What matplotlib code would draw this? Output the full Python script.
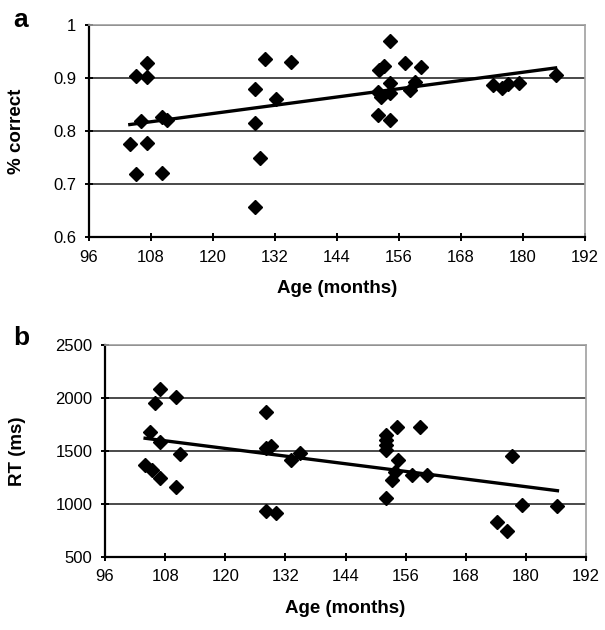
import numpy as np
import matplotlib
import matplotlib.pyplot as plt

matplotlib.rcParams["font.family"] = ["Liberation Sans", "DejaVu Sans"]

# panel a: accuracy vs age
age_a = [103.9, 105.1, 107.2, 107.2, 106.0, 107.2, 105.1, 110.1, 110.1, 111.0,
         128.1, 128.1, 129.1, 128.1, 130.1, 135.0, 132.2,
         154.2, 152.2, 153.1, 157.1, 160.2, 152.0, 152.6, 154.2, 154.2,
         158.1, 159.1, 152.0, 154.2,
         174.1, 176.0, 177.1, 179.2, 186.3]
acc_a = [0.775, 0.904, 0.928, 0.902, 0.818, 0.777, 0.719, 0.720, 0.827, 0.821,
         0.879, 0.816, 0.750, 0.657, 0.935, 0.931, 0.860,
         0.969, 0.916, 0.923, 0.928, 0.921, 0.874, 0.865, 0.890, 0.871,
         0.877, 0.893, 0.830, 0.821,
         0.887, 0.882, 0.889, 0.890, 0.906]

# panel b: reaction time vs age
age_b = [104.9, 107.0, 106.0, 110.1, 107.0, 110.9, 104.0, 105.3, 107.0, 110.1,
         128.1, 128.1, 129.1, 133.1, 135.0, 128.1, 130.1,
         154.2, 158.8, 152.1, 152.1, 152.1, 152.1, 154.5, 153.8, 153.2,
         157.2, 160.2, 152.1,
         177.2, 179.2, 186.3, 174.3, 176.3]
rt_b = [1682, 2088, 1956, 2008, 1585, 1475, 1370, 1318, 1247, 1163,
        1865, 1525, 1547, 1415, 1484, 937, 918,
        1727, 1724, 1651, 1604, 1557, 1509, 1415, 1305, 1226,
        1274, 1274, 1054,
        1453, 991, 981, 833, 748]

xticks = np.arange(96, 193, 12)


def style_axes(ax, yticks, ylabel, ylab_x):
    ax.set_xlim(96, 192)
    ax.set_ylim(yticks[0], yticks[-1])
    ax.set_xticks(xticks)
    ax.set_yticks(yticks)
    ax.yaxis.grid(True, color="#2a2a2a", linewidth=1.2)
    ax.set_axisbelow(True)
    for side in ["top", "right"]:
        ax.spines[side].set_color("#a0a0a0")
        ax.spines[side].set_linewidth(1.2)
    for side in ["left", "bottom"]:
        ax.spines[side].set_linewidth(1.6)
    ax.tick_params(direction="inout", length=6, width=1.4, labelsize=12, pad=6)
    ax.set_xlabel("Age (months)", fontsize=13.5, fontweight="bold")
    ax.xaxis.set_label_coords(0.5, -0.205)
    ax.set_ylabel(ylabel, fontsize=13.5, fontweight="bold")
    ax.yaxis.set_label_coords(ylab_x, 0.5)


def scatter_with_fit(ax, x, y):
    x = np.array(x)
    y = np.array(y)
    ax.plot(x, y, linestyle="none", marker="D", markersize=6.8, color="black", zorder=3)
    slope, intercept = np.polyfit(x, y, 1)
    xs = np.array([x.min(), x.max()])
    ax.plot(xs, slope * xs + intercept, color="black", linewidth=2.4, zorder=4)


fig = plt.figure(figsize=(6.05, 6.3), dpi=100)
ax_a = fig.add_axes([0.1471, 0.6238, 0.8199, 0.3365])
ax_b = fig.add_axes([0.1736, 0.1159, 0.7950, 0.3365])

scatter_with_fit(ax_a, age_a, acc_a)
style_axes(ax_a, [0.6, 0.7, 0.8, 0.9, 1.0], "% correct", -0.13)
ax_a.set_yticklabels(["0.6", "0.7", "0.8", "0.9", "1"])

scatter_with_fit(ax_b, age_b, rt_b)
style_axes(ax_b, [500, 1000, 1500, 2000, 2500], "RT (ms)", -0.165)

# panel letters
fig.text(0.022, 1 - 27 / 630, "a", fontsize=19, fontweight="bold", va="baseline")
fig.text(0.022, 1 - 345 / 630, "b", fontsize=19, fontweight="bold", va="baseline")

fig.savefig("out.png", dpi=100)
